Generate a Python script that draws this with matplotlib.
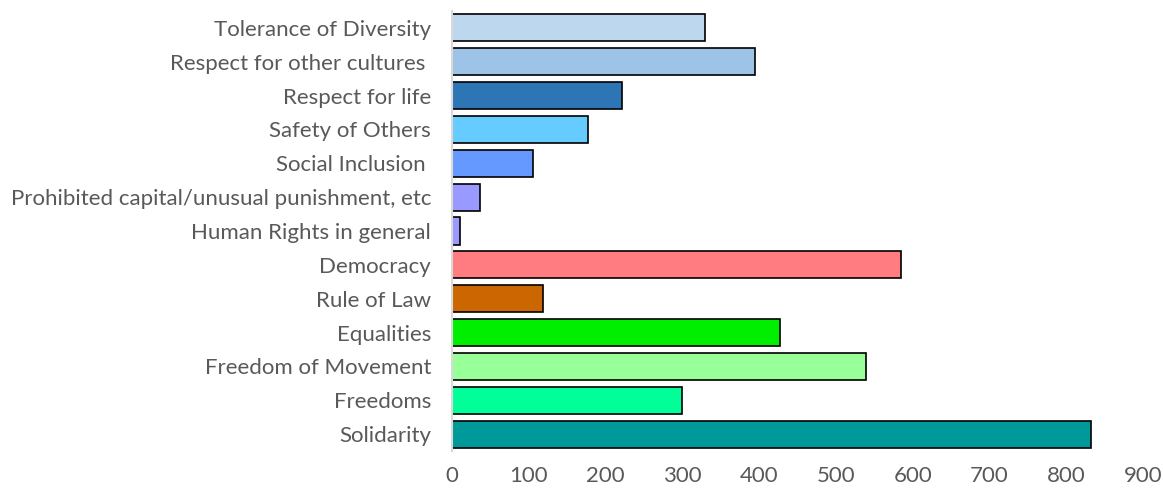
import matplotlib.pyplot as plt

categories = [
    "Tolerance of Diversity",
    "Respect for other cultures ",
    "Respect for life",
    "Safety of Others",
    "Social Inclusion ",
    "Prohibited capital/unusual punishment, etc",
    "Human Rights in general",
    "Democracy",
    "Rule of Law",
    "Equalities",
    "Freedom of Movement",
    "Freedoms",
    "Solidarity",
]
values = [330, 395, 222, 177, 105, 36, 11, 585, 119, 427, 539, 300, 832]
colors = ["#BDD7EE", "#9DC3E6", "#2E75B6", "#66CCFF", "#6699FF", "#9999FF",
          "#9999FF", "#FF7C80", "#CC6600", "#00EE00", "#99FF99", "#00FF99",
          "#009999"]
xticks = [0, 100, 200, 300, 400, 500, 600, 700, 800, 900]

plt.rcParams['font.family'] = ['Lato', 'DejaVu Sans']

fig = plt.figure(figsize=(11.63, 4.9), dpi=100)
ax = fig.add_axes([0.3886, 0.0796, 0.5942, 0.898])

pos = list(range(len(categories)))
ax.barh(pos, values, height=0.8, color=colors, edgecolor="black", linewidth=1.2)

ax.set_ylim(len(categories) - 0.5, -0.5)
ax.set_xlim(0, 900)
ax.set_yticks(pos)
ax.set_yticklabels(categories, fontsize=16, color="#595959")
ax.set_xticks(xticks)
ax.set_xticklabels([str(t) for t in xticks], fontsize=16, color="#595959")
ax.tick_params(axis="y", length=0, pad=15)
ax.tick_params(axis="x", length=0, pad=11)

for side in ["top", "right", "bottom"]:
    ax.spines[side].set_visible(False)
ax.spines["left"].set_color("#D9D9D9")
ax.spines["left"].set_linewidth(1.5)

fig.savefig("out.png", dpi=100)
